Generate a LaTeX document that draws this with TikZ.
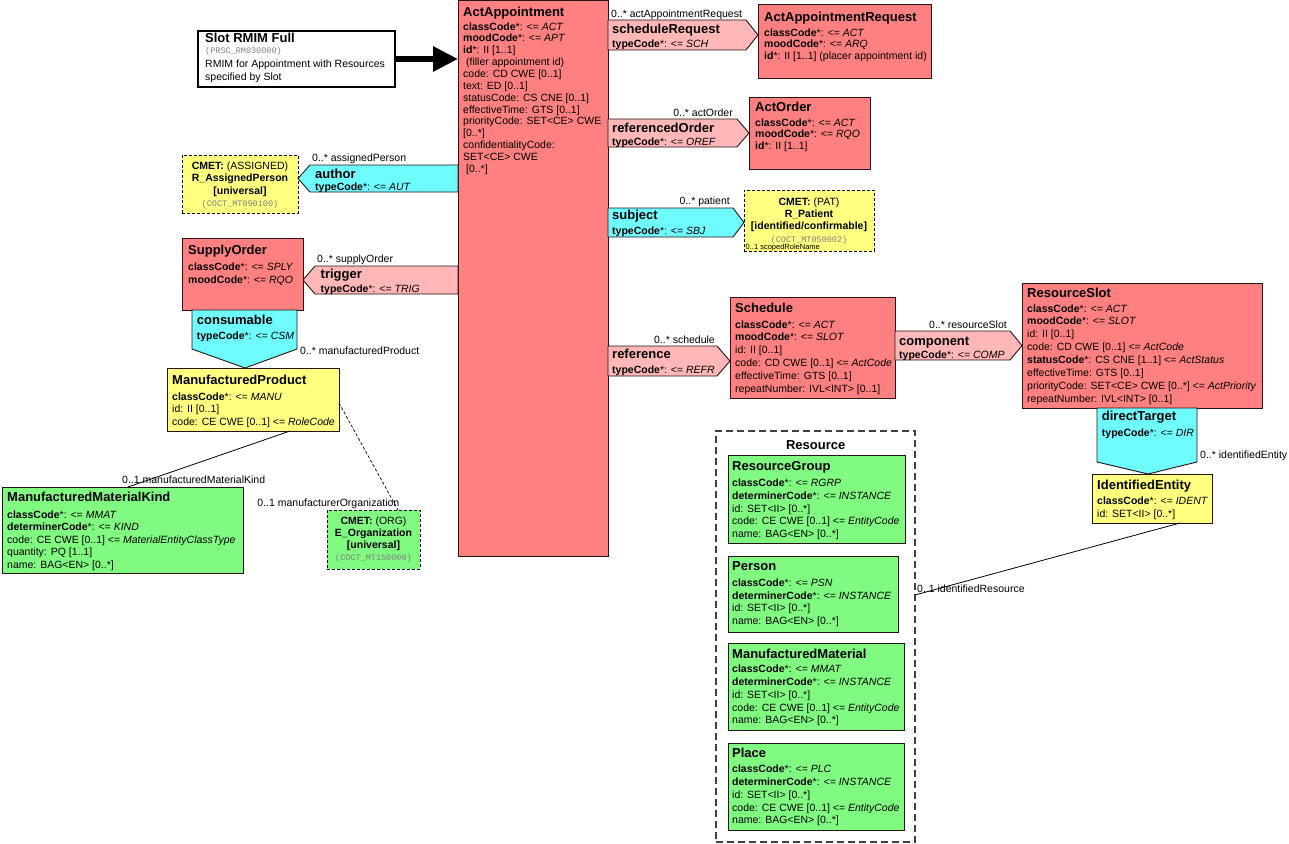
\documentclass[tikz,border=0pt]{standalone}
\usepackage{fontspec}
\setmainfont{Liberation Sans}
\newfontfamily\cmetmono{Liberation Mono}
\usetikzlibrary{arrows.meta}

\definecolor{actfill}{RGB}{255,128,128}
\definecolor{relfill}{RGB}{255,183,183}
\definecolor{partfill}{RGB}{110,252,255}
\definecolor{rolefill}{RGB}{255,255,128}
\definecolor{entfill}{RGB}{128,250,128}
\definecolor{edgecol}{RGB}{40,20,20}

\newcommand{\ttl}[1]{{\fontsize{13}{13}\selectfont\bfseries #1}}
\newcommand{\cmetid}[1]{{\cmetmono\fontsize{8.5}{8.5}\selectfont\color{gray}#1}}

\tikzset{
 box/.style={draw=edgecol, line width=0.9pt, inner sep=0pt, outer sep=0pt, anchor=north west},
 actbox/.style={box, fill=actfill},
 rolebox/.style={box, fill=rolefill},
 entbox/.style={box, fill=entfill},
 cmetdash/.style={draw=black, dash pattern=on 3pt off 2pt},
 relshape/.style={draw=edgecol, line width=0.9pt, fill=relfill},
 partshape/.style={draw=edgecol, line width=0.9pt, fill=partfill},
 ct/.style={anchor=north west, inner sep=0pt, align=left, font=\fontsize{10.5}{#1}\selectfont},
 cc/.style={anchor=north, inner sep=0pt, align=center, font=\fontsize{10.5}{#1}\selectfont},
 lbl/.style={inner sep=0pt, font=\fontsize{10.5}{12}\selectfont},
 conn/.style={draw=black, line width=0.8pt},
}

\begin{document}
\begin{tikzpicture}[x=1pt, y=-1pt]
\fill[white] (0,0) rectangle (1289,843);
\useasboundingbox (0,0) rectangle (1289,843);

% ---------------- title box and big arrow
\node[box, draw=black, line width=2.5pt, fill=white, minimum width=197pt, minimum height=56pt] (TitleBox) at (198,31) {};
\node[ct=13.8] (tTitle) at (205,33.35) {\ttl{Slot RMIM Full}\\[-3.6pt]
\cmetid{(PRSC\_RM030000)}\\[0.2pt]
RMIM for Appointment with Resources\\
specified by Slot};

% ---------------- ActAppointment
\node[actbox, minimum width=150pt, minimum height=556pt] (ActAppt) at (458,0) {};
\node[ct=11.85] (tActAppt) at (463,7.35) {\ttl{ActAppointment}\\[1.26pt]
\textbf{classCode}*: <= \textit{ACT}\\
\textbf{moodCode}*: <= \textit{APT}\\
\textbf{id}*: II [1..1]\\
\ (filler appointment id)\\
code: CD CWE [0..1]\\
text: ED [0..1]\\
statusCode: CS CNE [0..1]\\
effectiveTime: GTS [0..1]\\
priorityCode: SET<CE> CWE\\
{[0..*]}\\
confidentialityCode:\\
SET<CE> CWE\\
\ {[0..*]}};

\draw[line width=6pt, -{Triangle[length=25pt,width=24pt]}] (TitleBox.east) -- (ActAppt.west |- TitleBox.east);

% ---------------- ActAppointmentRequest + scheduleRequest
\node[actbox, minimum width=173pt, minimum height=74pt] (ActApptReq) at (758,4) {};
\node[ct=11.5] (tActApptReq) at (764,12.05) {\ttl{ActAppointmentRequest}\\[2.9pt]
\textbf{classCode}*: <= \textit{ACT}\\
\textbf{moodCode}*: <= \textit{ARQ}\\
\textbf{id}*: II [1..1] (placer appointment id)};
\draw[relshape] (ActAppt.east |- 0,20) -- (746,20) -- (ActApptReq.west |- 0,35) -- (746,50) -- (ActAppt.east |- 0,50) -- cycle;
\node[ct=14.1] (tSchedReq) at (612,23.65) {\ttl{scheduleRequest}\\
\textbf{typeCode}*: <= \textit{SCH}};
\node[lbl, anchor=base west] (lSchedReq) at (611,17.8) {0..* actAppointmentRequest};

% ---------------- ActOrder + referencedOrder
\node[actbox, minimum width=121pt, minimum height=72pt] (ActOrder) at (749,97) {};
\node[ct=11.5] (tActOrder) at (755,102.05) {\ttl{ActOrder}\\[3pt]
\textbf{classCode}*: <= \textit{ACT}\\
\textbf{moodCode}*: <= \textit{RQO}\\
\textbf{id}*: II [1..1]};
\draw[relshape] (ActAppt.east |- 0,119) -- (737,119) -- (ActOrder.west |- 0,133) -- (737,147) -- (ActAppt.east |- 0,147) -- cycle;
\node[ct=13.5] (tRefOrder) at (612,122.65) {\ttl{referencedOrder}\\
\textbf{typeCode}*: <= \textit{OREF}};
\node[lbl, anchor=base east] (lRefOrder) at (733,116.5) {0..* actOrder};

% ---------------- R_AssignedPerson + author
\node[box, fill=rolefill, cmetdash, minimum width=116pt, minimum height=58pt] (RAssigned) at (182,155) {};
\node[cc=12.5] (tRAssigned) at (240,161.2) {\textbf{CMET:} (ASSIGNED)\\
\textbf{R\_AssignedPerson}\\
\textbf{[universal]}\\
\cmetid{(COCT\_MT090100)}};
\draw[partshape] (ActAppt.west |- 0,165) -- (310,165) -- (RAssigned.east |- 0,178.5) -- (310,192) -- (ActAppt.west |- 0,192) -- cycle;
\node[ct=12.5] (tAuthor) at (315,168.65) {\ttl{author}\\
\textbf{typeCode}*: <= \textit{AUT}};
\node[lbl, anchor=base west] (lAuthor) at (312,161) {0..* assignedPerson};

% ---------------- SupplyOrder + trigger + consumable
\node[actbox, minimum width=121pt, minimum height=72pt] (SupplyOrder) at (182,238) {};
\node[ct=13.3] (tSupplyOrder) at (188,245.35) {\ttl{SupplyOrder}\\[1.8pt]
\textbf{classCode}*: <= \textit{SPLY}\\
\textbf{moodCode}*: <= \textit{RQO}};
\draw[relshape] (ActAppt.west |- 0,266) -- (315,266) -- (SupplyOrder.east |- 0,280) -- (315,294) -- (ActAppt.west |- 0,294) -- cycle;
\node[ct=13.7] (tTrigger) at (320.5,269.05) {\ttl{trigger}\\
\textbf{typeCode}*: <= \textit{TRIG}};
\node[lbl, anchor=base west] (lTrigger) at (317,262.8) {0..* supplyOrder};

% ---------------- ManufacturedProduct
\node[rolebox, minimum width=172pt, minimum height=63pt] (MP) at (167,368) {};
\node[ct=12.8] (tMP) at (172,375.35) {\ttl{ManufacturedProduct}\\[2.3pt]
\textbf{classCode}*: <= \textit{MANU}\\
id: II [0..1]\\
code: CE CWE [0..1] <= \textit{RoleCode}};

\draw[partshape] (SupplyOrder.south -| 192,0) -- (SupplyOrder.south -| 297,0) -- (297,349) -- (MP.north -| 245,0) -- (192,349) -- cycle;
\node[ct=14.8] (tConsumable) at (196.7,314.65) {\ttl{consumable}\\
\textbf{typeCode}*: <= \textit{CSM}};
\node[lbl, anchor=base west] (lConsumable) at (300,354.8) {0..* manufacturedProduct};

% ---------------- ManufacturedMaterialKind
\node[entbox, minimum width=241pt, minimum height=86pt] (MMK) at (2,487) {};
\node[ct=12.5] (tMMK) at (7,492.05) {\ttl{ManufacturedMaterialKind}\\[3.9pt]
\textbf{classCode}*: <= \textit{MMAT}\\
\textbf{determinerCode}*: <= \textit{KIND}\\
code: CE CWE [0..1] <= \textit{MaterialEntityClassType}\\
quantity: PQ [1..1]\\
name: BAG<EN> [0..*]};
\draw[conn] (MP.south -| 290,0) -- (MMK.north -| 128,0);
\node[lbl, anchor=base west] (lMMK) at (122,483.8) {0..1 manufacturedMaterialKind};

% ---------------- E_Organization
\node[box, fill=entfill, cmetdash, minimum width=93pt, minimum height=59pt] (EOrg) at (327,510) {};
\node[cc=12.3] (tEOrg) at (373.5,516.2) {\textbf{CMET:} (ORG)\\
\textbf{E\_Organization}\\
\textbf{[universal]}\\
\cmetid{(COCT\_MT150000)}};
\draw[conn, line width=0.7pt, dash pattern=on 3pt off 2pt] (MP.east |- 0,403) -- (EOrg.north -| 398,0);
\node[lbl, anchor=base east] (lEOrg) at (399.5,506.5) {0..1 manufacturerOrganization};

% ---------------- R_Patient + subject
\node[box, fill=rolefill, cmetdash, minimum width=130pt, minimum height=61pt] (RPatient) at (744,190) {};
\node[cc=12.2] (tRPatient) at (809,197.6) {\textbf{CMET:} (PAT)\\
\textbf{R\_Patient}\\
\textbf{[identified/confirmable]}\\
\cmetid{(COCT\_MT050002)}};
\node[inner sep=0pt, anchor=base west, font=\fontsize{7.5}{8}\selectfont] (lScoped) at (745.5,249.2) {0..1 scopedRoleName};
\draw[partshape] (ActAppt.east |- 0,208) -- (733,208) -- (RPatient.west |- 0,222.5) -- (733,237) -- (ActAppt.east |- 0,237) -- cycle;
\node[ct=14.8] (tSubject) at (612,210.35) {\ttl{subject}\\
\textbf{typeCode}*: <= \textit{SBJ}};
\node[lbl, anchor=base east] (lSubject) at (730,204.5) {0..* patient};

% ---------------- Schedule + reference
\node[actbox, minimum width=165pt, minimum height=101pt] (Schedule) at (730,297) {};
\node[ct=12.8] (tSchedule) at (735,303.35) {\ttl{Schedule}\\[2.3pt]
\textbf{classCode}*: <= \textit{ACT}\\
\textbf{moodCode}*: <= \textit{SLOT}\\
id: II [0..1]\\
code: CD CWE [0..1] <= \textit{ActCode}\\
effectiveTime: GTS [0..1]\\
repeatNumber: IVL<INT> [0..1]};
\draw[relshape] (ActAppt.east |- 0,346) -- (717,346) -- (Schedule.west |- 0,361) -- (717,376) -- (ActAppt.east |- 0,376) -- cycle;
\node[ct=14.1] (tReference) at (612,349.35) {\ttl{reference}\\
\textbf{typeCode}*: <= \textit{REFR}};
\node[lbl, anchor=base east] (lReference) at (715,343.8) {0..* schedule};

% ---------------- ResourceSlot + component
\node[actbox, minimum width=240pt, minimum height=125pt] (ResSlot) at (1022,283) {};
\node[ct=12.9] (tResSlot) at (1027,288.35) {\ttl{ResourceSlot}\\[1.2pt]
\textbf{classCode}*: <= \textit{ACT}\\
\textbf{moodCode}*: <= \textit{SLOT}\\
id: II [0..1]\\
code: CD CWE [0..1] <= \textit{ActCode}\\
\textbf{statusCode}*: CS CNE [1..1] <= \textit{ActStatus}\\
effectiveTime: GTS [0..1]\\
priorityCode: SET<CE> CWE [0..*] <= \textit{ActPriority}\\
repeatNumber: IVL<INT> [0..1]};
\draw[relshape] (Schedule.east |- 0,331) -- (1010,331) -- (ResSlot.west |- 0,345.5) -- (1010,360) -- (Schedule.east |- 0,360) -- cycle;
\node[ct=13.1] (tComponent) at (899,336.35) {\ttl{component}\\
\textbf{typeCode}*: <= \textit{COMP}};
\node[lbl, anchor=base east] (lComponent) at (1007,328.8) {0..* resourceSlot};

% ---------------- IdentifiedEntity + directTarget
\node[rolebox, minimum width=120pt, minimum height=49pt] (IdentEnt) at (1092,474) {};
\node[ct=13.3] (tIdentEnt) at (1097,480.35) {\ttl{IdentifiedEntity}\\[0.8pt]
\textbf{classCode}*: <= \textit{IDENT}\\
id: SET<II> [0..*]};
\draw[partshape] (ResSlot.south -| 1097,0) -- (ResSlot.south -| 1197,0) -- (1197,462) -- (IdentEnt.north -| 1148,0) -- (1097,462) -- cycle;
\node[ct=15.8] (tDirect) at (1101.7,411.35) {\ttl{directTarget}\\
\textbf{typeCode}*: <= \textit{DIR}};
\node[lbl, anchor=base west] (lDirect) at (1200,458.8) {0..* identifiedEntity};

% ---------------- Resource container
\node[box, draw=black!75, line width=1.2pt, dash pattern=on 7pt off 4pt, minimum width=199pt, minimum height=411pt] (ResCont) at (716,431) {};
\node[inner sep=0pt, anchor=base, font=\fontsize{13}{13}\selectfont\bfseries] (tResCont) at (815.7,449.6) {Resource};

\node[entbox, minimum width=177pt, minimum height=88pt] (RGroup) at (728,455) {};
\node[ct=12.8] (tRGroup) at (732,461.35) {\ttl{ResourceGroup}\\[3pt]
\textbf{classCode}*: <= \textit{RGRP}\\
\textbf{determinerCode}*: <= \textit{INSTANCE}\\
id: SET<II> [0..*]\\
code: CE CWE [0..1] <= \textit{EntityCode}\\
name: BAG<EN> [0..*]};

\node[entbox, minimum width=170pt, minimum height=76pt] (Person) at (728,556) {};
\node[ct=12.7] (tPerson) at (732,561.35) {\ttl{Person}\\[3.1pt]
\textbf{classCode}*: <= \textit{PSN}\\
\textbf{determinerCode}*: <= \textit{INSTANCE}\\
id: SET<II> [0..*]\\
name: BAG<EN> [0..*]};

\node[entbox, minimum width=176pt, minimum height=87pt] (MMat) at (728,643) {};
\node[ct=12.9] (tMMat) at (732,648.65) {\ttl{ManufacturedMaterial}\\[1.2pt]
\textbf{classCode}*: <= \textit{MMAT}\\
\textbf{determinerCode}*: <= \textit{INSTANCE}\\
id: SET<II> [0..*]\\
code: CE CWE [0..1] <= \textit{EntityCode}\\
name: BAG<EN> [0..*]};

\node[entbox, minimum width=176pt, minimum height=87pt] (Place) at (728,743) {};
\node[ct=12.9] (tPlace) at (732,748.05) {\ttl{Place}\\[1.8pt]
\textbf{classCode}*: <= \textit{PLC}\\
\textbf{determinerCode}*: <= \textit{INSTANCE}\\
id: SET<II> [0..*]\\
code: CE CWE [0..1] <= \textit{EntityCode}\\
name: BAG<EN> [0..*]};

\draw[conn] (IdentEnt.south -| 1180,0) -- (ResCont.east |- 0,595);
\node[lbl, anchor=base west] (lIdentRes) at (917,592.8) {0..1 identifiedResource};

\end{tikzpicture}
\end{document}
